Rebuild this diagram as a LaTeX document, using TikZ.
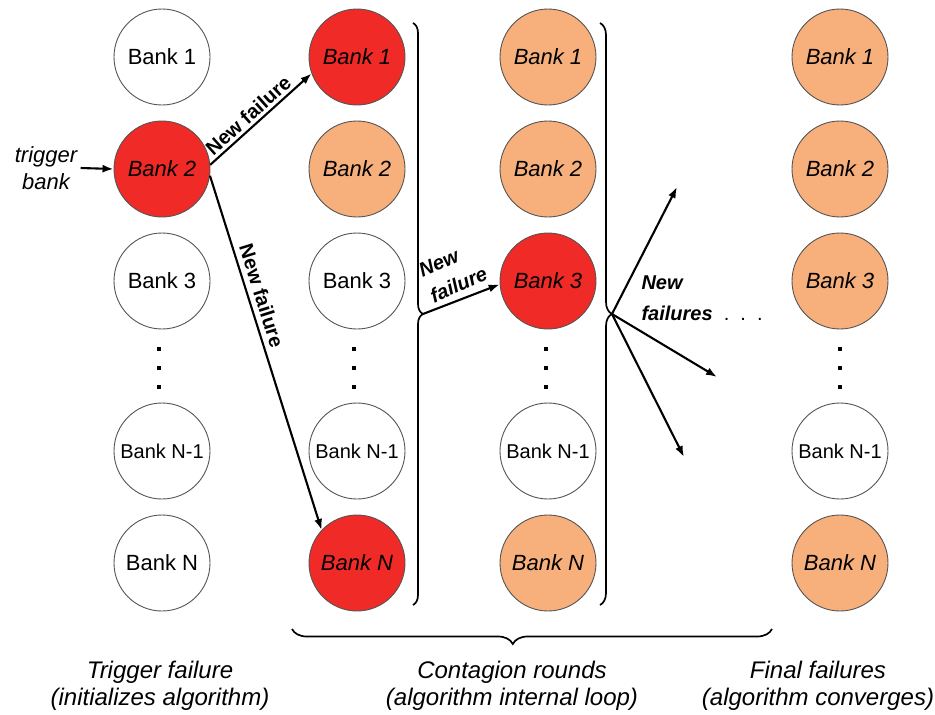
\documentclass[tikz,border=0pt]{standalone}
\usepackage{fontspec}
\setmainfont{Liberation Sans}
\usetikzlibrary{arrows.meta,decorations.pathreplacing}
\definecolor{failred}{RGB}{240,42,38}
\definecolor{failpeach}{RGB}{247,176,124}
\definecolor{rim}{RGB}{85,85,85}

\begin{document}
\begin{tikzpicture}[x=1pt,y=-1pt,
  bank/.style={circle,draw=rim,line width=0.9pt,minimum size=96pt,inner sep=0pt,
    font=\fontsize{22}{26}\selectfont},
  narrowtxt/.style={font=\fontsize{20}{24}\selectfont},
  newfail/.style={fill=failred,font=\fontsize{22}{26}\selectfont\itshape},
  oldfail/.style={fill=failpeach,font=\fontsize{22}{26}\selectfont\itshape},
  link/.style={line width=2.1pt,-{Latex[length=11pt,width=8pt]}},
  brc/.style={decorate,line width=1.7pt},
  lbl/.style={font=\fontsize{20}{24}\selectfont\bfseries},
  capt/.style={font=\fontsize{24}{27}\selectfont\itshape,align=center}
]
\path[use as bounding box] (0,0) rectangle (935,715);

% column 1: trigger failure
\node[bank] (c1b1) at (162,57) {Bank 1};
\node[bank,newfail] (c1b2) at (162,169) {Bank 2};
\node[bank] (c1b3) at (162,281) {Bank 3};
\node[bank,narrowtxt] (c1bm) at (162,451) {Bank N-1};
\node[bank] (c1bN) at (162,563) {Bank N};

% column 2: first contagion round
\node[bank,newfail] (c2b1) at (357,57) {Bank 1};
\node[bank,oldfail] (c2b2) at (357,169) {Bank 2};
\node[bank] (c2b3) at (357,281) {Bank 3};
\node[bank,narrowtxt] (c2bm) at (357,451) {Bank N-1};
\node[bank,newfail] (c2bN) at (357,563) {Bank N};

% column 3: next contagion round
\node[bank,oldfail] (c3b1) at (548,57) {Bank 1};
\node[bank,oldfail] (c3b2) at (548,169) {Bank 2};
\node[bank,newfail] (c3b3) at (548,281) {Bank 3};
\node[bank,narrowtxt] (c3bm) at (548,451) {Bank N-1};
\node[bank,oldfail] (c3bN) at (548,563) {Bank N};

% column 4: final failures
\node[bank,oldfail] (c4b1) at (840,57) {Bank 1};
\node[bank,oldfail] (c4b2) at (840,169) {Bank 2};
\node[bank,oldfail] (c4b3) at (840,281) {Bank 3};
\node[bank,narrowtxt] (c4bm) at (840,451) {Bank N-1};
\node[bank,oldfail] (c4bN) at (840,563) {Bank N};

% vertical ellipses
\foreach \x in {159,354,546,840}
  \foreach \y in {349,368,387}
    \fill (\x-1.6,\y-1.6) rectangle +(3.2,3.2);

% trigger input
\node[font=\fontsize{22}{27}\selectfont\itshape,align=center] (trig) at (46,168) {trigger\\bank};
\draw[link] (trig.east) -- (c1b2.west);

% first wave of failures
\draw[link] (c1b2.5) -- node[lbl,sloped,above,pos=0.45,inner sep=3pt] {New failure} (c2b1.200);
\draw[link] (c1b2.-8) -- node[lbl,sloped,above,pos=0.35,inner sep=5pt] {New failure} (c2bN.137);

% braces around the contagion rounds
\draw[brc,decoration={brace,amplitude=10pt}] (413,23) -- (413,605);
\draw[brc,decoration={brace,amplitude=12pt}] (600,23) -- (600,605);
\draw[brc,decoration={brace,amplitude=15pt,aspect=0.54}] (772,629) -- (292,629);
\coordinate (t1) at (423,314);
\coordinate (t2) at (612,314);

% later rounds
\draw[link] (t1) -- (c3b3.184);
\node[lbl,font=\fontsize{20}{28}\selectfont\bfseries\itshape,rotate=24,align=left] at (453,272) {New\\failure};

\coordinate (f1) at (677,187);
\coordinate (f2) at (717,377);
\coordinate (f3) at (684,457);
\draw[link] (t2) -- (f1);
\draw[link] (t2) -- (f2);
\draw[link] (t2) -- (f3);
\node[font=\fontsize{20}{31}\selectfont\bfseries\itshape,align=left,anchor=north west] at (638,272) {New\\failures\mdseries\upshape\ \ .\ \ .\ \ .};

% phase captions
\node[capt] (cap1) at (160,686) {Trigger failure\\(initializes algorithm)};
\node[capt] (cap2) at (512,686) {Contagion rounds\\(algorithm internal loop)};
\node[capt] (cap3) at (818,686) {Final failures\\(algorithm converges)};
\end{tikzpicture}
\end{document}
